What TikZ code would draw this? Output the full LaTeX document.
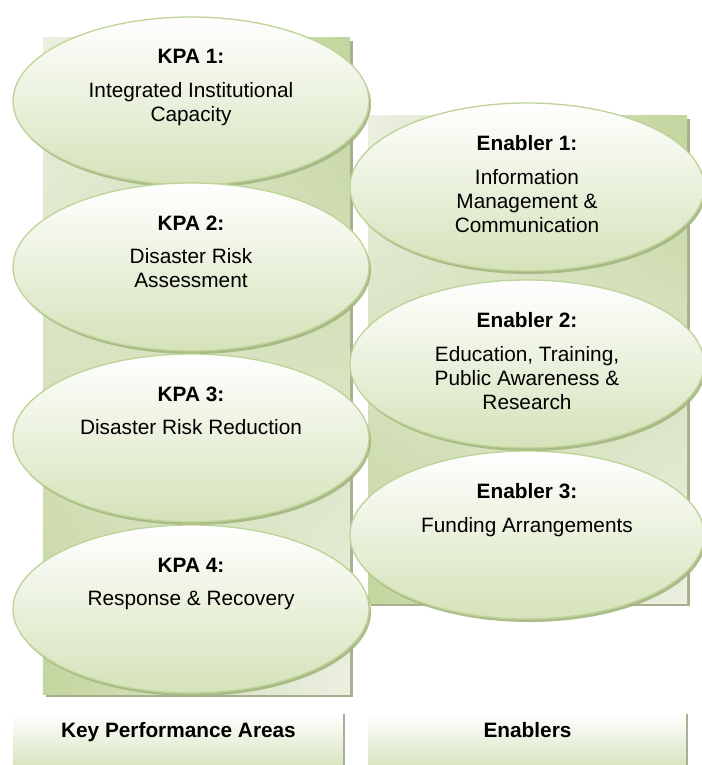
\documentclass[tikz,border=0pt]{standalone}
\usepackage{fontspec}
\setmainfont{Liberation Sans}
\usetikzlibrary{shapes.geometric,shadings,shadows,calc}

\definecolor{ringline}{HTML}{BDD397}
\definecolor{ringbottom}{HTML}{D5E2B9}
\definecolor{paneldark}{HTML}{C3D59D}
\definecolor{panellight}{HTML}{ECF0E2}
\definecolor{panelshade}{HTML}{A6AE8E}
\definecolor{ringshade}{HTML}{A3B680}
\definecolor{tagbottom}{HTML}{D8E4C0}
\definecolor{tagedge}{HTML}{A9AE96}

\begin{document}
\begin{tikzpicture}[x=1bp,y=-1bp,
  every node/.style={font=\fontsize{20.8bp}{24bp}\selectfont},
  panel/.style={rectangle, inner sep=0, outer sep=0,
    upper left=panellight, upper right=paneldark,
    lower left=paneldark, lower right=panellight,
    drop shadow={shadow xshift=3bp, shadow yshift=-3bp, fill=panelshade, opacity=1}},
  ring/.style={ellipse, draw=ringline, line width=1.3bp, inner sep=0, outer sep=0,
    top color=white, bottom color=ringbottom,
    minimum width=356bp, minimum height=168bp,
    drop shadow={shadow xshift=2bp, shadow yshift=-3bp, fill=ringshade, opacity=0.9}},
  ringtitle/.style={anchor=base, inner sep=0,
    font=\fontsize{20.8bp}{24bp}\selectfont\bfseries},
  ringbody/.style={anchor=north, inner sep=0, align=center},
  tag/.style={rectangle, inner sep=0, outer sep=0, top color=white, bottom color=tagbottom},
  tagtext/.style={anchor=base, inner sep=0, font=\fontsize{20.8bp}{24bp}\selectfont\bfseries}
]
\useasboundingbox (0,0) rectangle (702,765);

% background panels
\node[panel, minimum width=307bp, minimum height=656bp] (leftpanel) at (196.5,366) {};
\node[panel, minimum width=319bp, minimum height=487bp] (rightpanel) at (527.5,359.5) {};

% key performance areas
\node[ring] (kpa1) at (191,101) {};
\node[ring] (kpa2) at (191,267) {};
\node[ring] (kpa3) at (191,438) {};
\node[ring] (kpa4) at (191,609) {};

% enablers
\node[ring, minimum width=354bp] (en1) at (527,187) {};
\node[ring, minimum width=354bp] (en2) at (527,364) {};
\node[ring, minimum width=354bp] (en3) at (527,535) {};

% ring texts
\node[ringtitle] (kpa1t) at ($(kpa1.center)+(0,-37)$) {KPA 1:};
\node[ringbody] (kpa1b) at ($(kpa1.center)+(0,-18.5)$) {Integrated Institutional\\Capacity};
\node[ringtitle] (kpa2t) at ($(kpa2.center)+(0,-37)$) {KPA 2:};
\node[ringbody] (kpa2b) at ($(kpa2.center)+(0,-18.5)$) {Disaster Risk\\Assessment};
\node[ringtitle] (kpa3t) at ($(kpa3.center)+(0,-37)$) {KPA 3:};
\node[ringbody] (kpa3b) at ($(kpa3.center)+(0,-18.5)$) {Disaster Risk Reduction};
\node[ringtitle] (kpa4t) at ($(kpa4.center)+(0,-37)$) {KPA 4:};
\node[ringbody] (kpa4b) at ($(kpa4.center)+(0,-18.5)$) {Response \& Recovery};

\node[ringtitle] (en1t) at ($(en1.center)+(0,-37)$) {Enabler 1:};
\node[ringbody] (en1b) at ($(en1.center)+(0,-17.5)$) {Information\\Management \&\\Communication};
\node[ringtitle] (en2t) at ($(en2.center)+(0,-37)$) {Enabler 2:};
\node[ringbody] (en2b) at ($(en2.center)+(0,-17.5)$) {Education, Training,\\Public Awareness \&\\Research};
\node[ringtitle] (en3t) at ($(en3.center)+(0,-37)$) {Enabler 3:};
\node[ringbody] (en3b) at ($(en3.center)+(0,-17.5)$) {Funding Arrangements};

% column captions
\node[tag, minimum width=331bp, minimum height=51bp] (kpatag) at (178.5,739.5) {};
\node[tag, minimum width=319bp, minimum height=51bp] (entag) at (527.5,739.5) {};
\draw[tagedge, line width=1.6bp] (kpatag.north east) -- (kpatag.south east);
\draw[tagedge, line width=1.6bp] (entag.north east) -- (entag.south east);
\node[tagtext] (kpatagt) at (178.5,737) {Key Performance Areas};
\node[tagtext] (entagt) at (527.5,737) {Enablers};
\end{tikzpicture}
\end{document}
